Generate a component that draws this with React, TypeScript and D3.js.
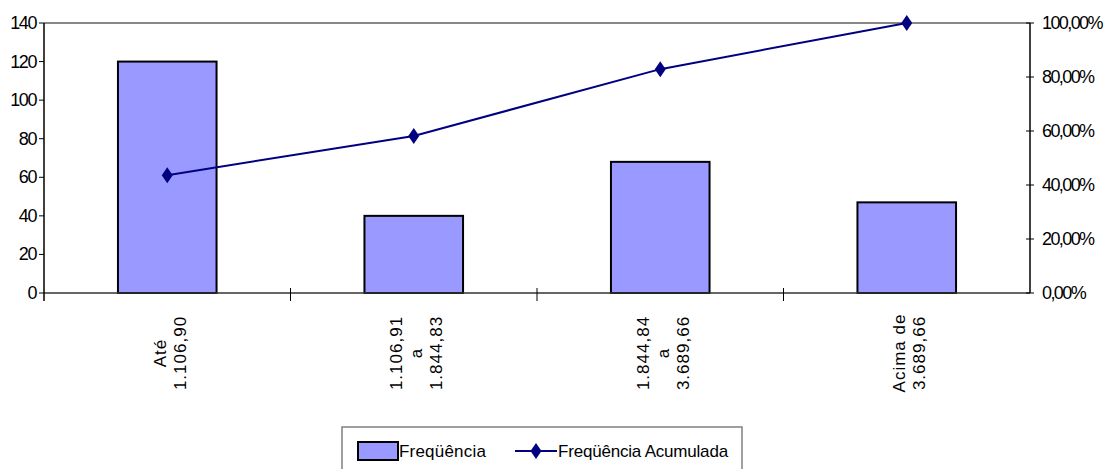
import * as d3 from 'd3';
import React from 'react';

// faixas de valores (rótulos em várias linhas)
const categories: string[][] = [
  ["Até", "1.106,90"],
  ["1.106,91", "a", "1.844,83"],
  ["1.844,84", "a", "3.689,66"],
  ["Acima de", "3.689,66"],
];
const frequencia = [120, 40, 68, 47];
const acumulada = [43.64, 58.18, 82.91, 100];
const leftTicks = [0, 20, 40, 60, 80, 100, 120, 140];
const rightTicks = [0, 20, 40, 60, 80, 100];

const W = 1111;
const H = 469;
const left = 44;
const right = 1030;
const top = 23;
const bottom = 293;
const font = '"Liberation Sans", Arial, sans-serif';

export default function App() {
  const x = d3.scaleBand<number>().domain(d3.range(categories.length)).range([left, right]).padding(0);
  const y = d3.scaleLinear().domain([0, 140]).range([bottom, top]);
  const y2 = d3.scaleLinear().domain([0, 100]).range([bottom, top]);
  const barW = x.bandwidth() * 0.4;
  const cx = (i: number) => (x(i) as number) + x.bandwidth() / 2;

  const line = d3.line<number>()
    .x((_, i) => cx(i))
    .y(d => y2(d));

  const diamond = (px: number, py: number) =>
    `M${px},${py - 8}L${px + 5.5},${py}L${px},${py + 8}L${px - 5.5},${py}Z`;

  const fmtPct = (v: number) => v.toFixed(2).replace('.', ',') + '%';

  return (
    <svg width={W} height={H} style={{position: 'absolute', left: 0, top: 0, background: '#fff'}}
         fontFamily={font}>
      {/* borda superior */}
      <line x1={left} x2={right} y1={top} y2={top} stroke="#888" strokeWidth={2}/>

      {/* barras */}
      {frequencia.map((v, i) => (
        <rect key={i} x={cx(i) - barW / 2} y={y(v)} width={barW} height={bottom - y(v)}
              fill="#9999FF" stroke="#000" strokeWidth={2}/>
      ))}

      {/* eixo x */}
      <line x1={left} x2={right} y1={bottom} y2={bottom} stroke="#333" strokeWidth={1.5}/>
      {d3.range(1, categories.length).map(i => (
        <line key={i} x1={x(i)} x2={x(i)} y1={bottom - 5} y2={bottom + 8} stroke="#000" strokeWidth={1}/>
      ))}

      {/* eixo esquerdo */}
      <line x1={left} x2={left} y1={top} y2={bottom + 8} stroke="#000" strokeWidth={1.5}/>
      {leftTicks.map(t => (
        <g key={t}>
          <line x1={left - 5} x2={left} y1={y(t)} y2={y(t)} stroke="#000"/>
          <text x={36} y={y(t)} textAnchor="end" dominantBaseline="central" fontSize={18}
                letterSpacing={-1.4}>{t}</text>
        </g>
      ))}

      {/* eixo direito */}
      <line x1={right} x2={right} y1={top} y2={bottom} stroke="#000" strokeWidth={1.5}/>
      {rightTicks.map(t => (
        <g key={t}>
          <line x1={right - 4} x2={right + 4} y1={y2(t)} y2={y2(t)} stroke="#000"/>
          <text x={1042} y={y2(t)} textAnchor="start" dominantBaseline="central" fontSize={18}
                letterSpacing={-1.6}>{fmtPct(t)}</text>
        </g>
      ))}

      {/* rótulos das categorias */}
      {categories.map((lines, i) => (
        <g key={i} transform={`translate(${cx(i) + 3},353) rotate(-90)`}>
          {lines.map((s, j) => (
            <text key={j} x={0} y={(j - (lines.length - 1) / 2) * 20} textAnchor="middle"
                  dominantBaseline="central" fontSize={17} letterSpacing={1}>{s}</text>
          ))}
        </g>
      ))}

      {/* frequência acumulada */}
      <path d={line(acumulada) || ''} fill="none" stroke="#000080" strokeWidth={2}/>
      {acumulada.map((v, i) => (
        <path key={i} d={diamond(cx(i), y2(v))} fill="#000080"/>
      ))}

      {/* legenda */}
      <rect x={342} y={427} width={400} height={60} fill="#fff" stroke="#808080" strokeWidth={1.5}/>
      <rect x={358} y={442} width={40} height={18} fill="#9999FF" stroke="#000" strokeWidth={2}/>
      <text x={399} y={451} dominantBaseline="central" fontSize={17} letterSpacing={0.2}>Freqüência</text>
      <line x1={515} x2={557} y1={451} y2={451} stroke="#000080" strokeWidth={2}/>
      <path d={diamond(536, 451)} fill="#000080"/>
      <text x={558} y={451} dominantBaseline="central" fontSize={17} letterSpacing={-0.2}>Freqüência Acumulada</text>
    </svg>
  );
}
